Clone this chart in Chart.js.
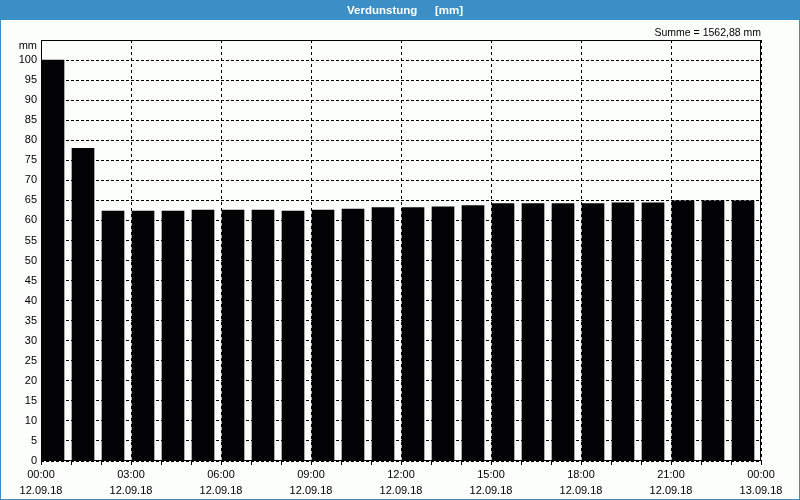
<!DOCTYPE html>
<html><head><meta charset="utf-8">
<script src="https://cdn.jsdelivr.net/npm/chart.js@4/dist/chart.umd.min.js"></script>
<style>
html,body{margin:0;padding:0;background:#fcfefc;}
#wrap{width:800px;height:500px;position:relative;}
canvas{display:block;}
</style>
</head><body>
<div id="wrap"><canvas id="c" width="800" height="500"></canvas></div>
<script>
// ---- data ----
const hours = [0,1,2,3,4,5,6,7,8,9,10,11,12,13,14,15,16,17,18,19,20,21,22,23];
const values = [100,78,62.35,62.35,62.35,62.6,62.6,62.6,62.35,62.6,62.85,63.2,63.2,63.4,63.7,64.2,64.2,64.2,64.2,64.4,64.4,64.9,64.9,64.9];
const tickTimes = ['00:00','03:00','06:00','09:00','12:00','15:00','18:00','21:00','00:00'];
const tickDates = ['12.09.18','12.09.18','12.09.18','12.09.18','12.09.18','12.09.18','12.09.18','12.09.18','13.09.18'];
const titleMain = 'Verdunstung';
const titleUnit = '[mm]';
const sumText = 'Summe = 1562,88 mm';
const yUnit = 'mm';
const barOffset = 0.4; // bar sits in hour slot, slightly left of centre

const BLUE = '#3b8fc6';
const FONT = '"Liberation Sans", Arial, sans-serif';

const decor = {
  id: 'decor',
  beforeDraw(chart) {
    const ctx = chart.ctx;
    ctx.save();
    ctx.fillStyle = '#fcfefc';
    ctx.fillRect(0, 0, 800, 500);
    ctx.restore();
  },
  afterDraw(chart) {
    const ctx = chart.ctx;
    const a = chart.chartArea;
    ctx.save();
    // frame of plot
    ctx.strokeStyle = '#000';
    ctx.lineWidth = 1;
    ctx.setLineDash([]);
    ctx.strokeRect(Math.round(a.left) + 0.5, Math.round(a.top) + 0.5,
                   Math.round(a.right - a.left) - 1, Math.round(a.bottom - a.top) - 1);
    // title band
    ctx.fillStyle = BLUE;
    ctx.fillRect(0, 0, 800, 20);
    // outer border
    ctx.strokeStyle = BLUE;
    ctx.strokeRect(0.5, 0.5, 799, 499);
    // title text
    ctx.fillStyle = '#ffffff';
    ctx.font = 'bold 11.5px ' + FONT;
    ctx.textBaseline = 'middle';
    ctx.textAlign = 'left';
    ctx.fillText(titleMain, 347, 10.5);
    ctx.fillText(titleUnit, 435, 10.5);
    // sum text
    ctx.fillStyle = '#000';
    ctx.font = '10.5px ' + FONT;
    ctx.textAlign = 'right';
    ctx.textBaseline = 'alphabetic';
    ctx.fillText(sumText, 761, 36);
    // y unit
    ctx.font = '11px ' + FONT;
    ctx.textBaseline = 'middle';
    ctx.fillText(yUnit, 37, 46);
    ctx.restore();
  }
};

new Chart(document.getElementById('c'), {
  type: 'bar',
  data: {
    datasets: [{
      data: hours.map((h, i) => ({x: h + barOffset, y: values[i]})),
      backgroundColor: '#030305',
      borderWidth: 0,
      barThickness: 22
    }]
  },
  options: {
    responsive: false,
    animation: false,
    devicePixelRatio: 1,
    layout: {padding: {left: 0, top: 40, right: 39, bottom: 0}},
    plugins: {legend: {display: false}, tooltip: {enabled: false}, title: {display: false}},
    scales: {
      x: {
        type: 'linear',
        min: 0, max: 24,
        offset: false,
        afterFit(s) { s.height = 39; },
        afterBuildTicks(s) {
          s.ticks = [];
          for (let v = 0; v <= 24; v++) s.ticks.push({value: v});
        },
        grid: {
          offset: false,
          color: (c) => (c.tick && c.tick.value % 3 === 0) ? '#000' : 'rgba(0,0,0,0)',
          tickColor: '#000',
          tickLength: 4,
          tickBorderDash: [],
          drawTicks: true
        },
        border: {display: false, dash: [3, 3]},
        ticks: {
          autoSkip: false,
          maxRotation: 0,
          padding: 2,
          color: '#000',
          font: {family: FONT, size: 11, lineHeight: 1.45},
          callback: (v) => (v % 3 === 0) ? [tickTimes[v / 3], tickDates[v / 3]] : ''
        }
      },
      y: {
        min: 0, max: 105,
        afterFit(s) { s.width = 41; },
        afterBuildTicks(s) {
          s.ticks = [];
          for (let v = 0; v <= 105; v += 5) s.ticks.push({value: v});
        },
        grid: {color: '#000', drawTicks: false},
        border: {display: false, dash: [3, 2]},
        ticks: {
          padding: 4,
          color: '#000',
          font: {family: FONT, size: 11},
          callback: (v) => v === 105 ? '' : String(v)
        }
      }
    }
  },
  plugins: [decor]
});
</script>
</body></html>
